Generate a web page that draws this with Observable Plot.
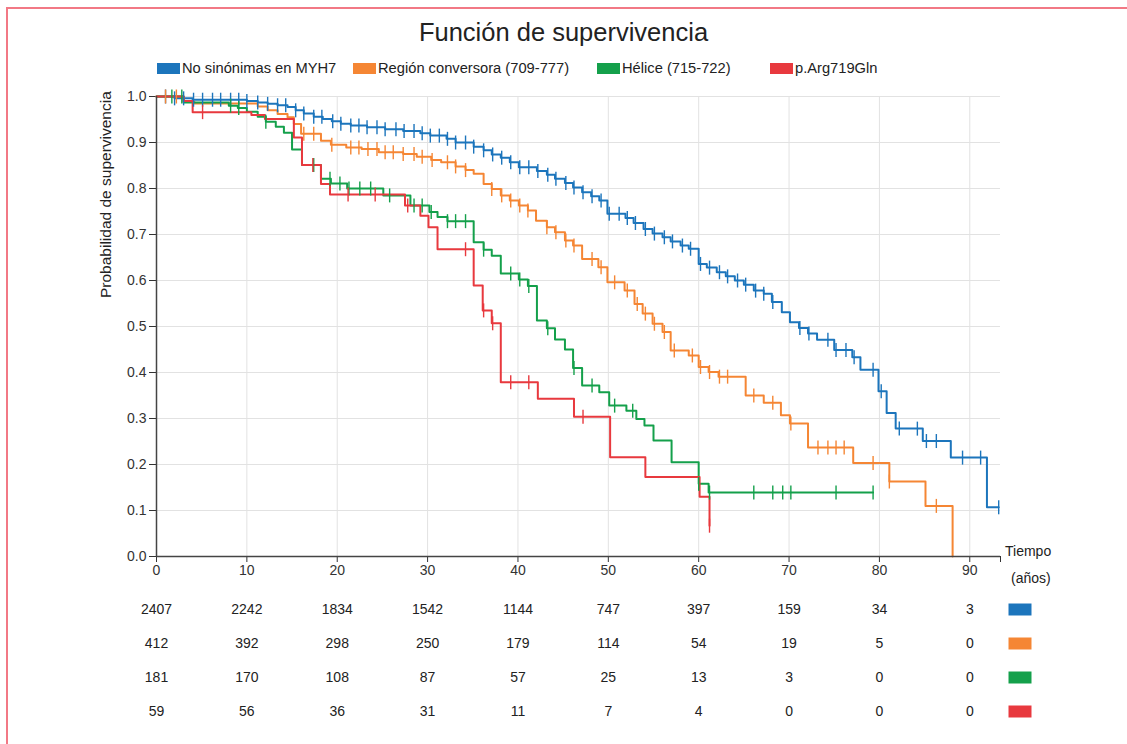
<!DOCTYPE html>
<html><head><meta charset="utf-8">
<script src="https://cdn.jsdelivr.net/npm/d3@7"></script>
<script src="https://cdn.jsdelivr.net/npm/@observablehq/plot@0.6"></script>
<style>
body{margin:0;background:#fff;font-family:"Liberation Sans",Arial,sans-serif;}
#frame{position:relative;width:1127px;height:744px;overflow:hidden;background:#fff;}
#border{position:absolute;left:6px;top:7px;right:-10px;bottom:-10px;border-top:2px solid #f27985;border-left:2px solid #f27985;}
#title{position:absolute;left:0;width:1127px;top:17px;text-align:center;font-size:25.5px;line-height:30px;color:#222;}
#legend{position:absolute;left:0;top:59px;width:1127px;height:18px;font-size:14.7px;line-height:18px;color:#222;}
.item{position:absolute;top:0;display:flex;align-items:center;white-space:nowrap;}
.sw{width:23px;height:11px;margin-right:2px;}
#ylab{position:absolute;left:97px;top:298px;transform:rotate(-90deg);transform-origin:left top;white-space:nowrap;font-size:15.5px;line-height:17px;color:#222;}
.tl{position:absolute;font-size:14px;line-height:16px;color:#222;white-space:nowrap;}
#main{position:absolute;left:0;top:80px;}
#risk{position:absolute;left:0;top:590px;}
</style></head>
<body>
<div id="frame">
  <div id="border"></div>
  <div id="title">Función de supervivencia</div>
  <div id="legend"></div>
  <div id="main"></div>
  <div id="risk"></div>
  <div id="ylab">Probabilidad de supervivencia</div>
  <div class="tl" style="left:1005px;top:543px;">Tiempo</div>
  <div class="tl" style="left:1011px;top:570px;">(años)</div>
</div>
<script>
// ---------- data ----------
const names = ["No sinónimas en MYH7", "Región conversora (709-777)", "Hélice (715-722)", "p.Arg719Gln"];
const colors = ["#1c75bc", "#f58634", "#14a04b", "#e8393e"];
const legendLeft = [157, 353, 597, 770];

// Kaplan-Meier steps: [time (years), survival after step]
const blueSteps = [[0,1],[2,0.996],[4,0.993],[10,0.990],[11.2,0.987],[12.3,0.984],[13.4,0.981],[14.5,0.977],[15.4,0.970],[16.3,0.963],[17.4,0.956],[18.4,0.951],[19.4,0.946],[20.4,0.941],[21.5,0.937],[23.3,0.933],[25.3,0.929],[27.3,0.925],[29.2,0.920],[30.3,0.915],[32.1,0.908],[33.1,0.900],[35.1,0.891],[36.2,0.883],[37.1,0.874],[38.1,0.867],[39.1,0.857],[40.1,0.846],[42.1,0.838],[43.2,0.830],[44.1,0.821],[45.2,0.812],[46.1,0.802],[47.1,0.792],[48.1,0.783],[49.0,0.774],[49.9,0.745],[51.9,0.736],[52.8,0.725],[53.9,0.712],[54.9,0.702],[56.0,0.694],[56.9,0.685],[58.0,0.676],[58.9,0.669],[60.0,0.636],[60.9,0.628],[62.0,0.618],[63.0,0.609],[64.0,0.600],[65.0,0.591],[66.1,0.578],[67.2,0.571],[68.1,0.553],[69.2,0.531],[70.1,0.509],[71.1,0.497],[72.1,0.485],[73.1,0.471],[75.0,0.449],[77.0,0.433],[77.9,0.406],[79.9,0.359],[80.8,0.312],[81.8,0.278],[84.8,0.251],[87.9,0.215],[91.9,0.107],[93.2,0.107]];
const orangeSteps = [[0,1],[3,0.988],[4.2,0.985],[11.2,0.978],[12.3,0.970],[13.4,0.962],[14.5,0.955],[15.2,0.940],[16.0,0.919],[18.2,0.904],[19.3,0.895],[21.0,0.889],[22.7,0.886],[24.6,0.879],[27.3,0.875],[28.8,0.869],[30.4,0.862],[31.5,0.857],[33.1,0.848],[34.2,0.840],[35.1,0.832],[36.2,0.810],[37.1,0.799],[38.1,0.785],[39.1,0.774],[40.1,0.763],[41.1,0.752],[42.0,0.730],[43.2,0.716],[44.1,0.705],[45.2,0.687],[46.1,0.676],[47.1,0.647],[48.9,0.629],[49.9,0.596],[51.8,0.578],[52.9,0.549],[53.8,0.528],[54.9,0.506],[56.0,0.488],[56.9,0.448],[58.9,0.437],[60.0,0.412],[61.1,0.401],[62.2,0.391],[65.2,0.350],[67.2,0.334],[69.1,0.307],[70.1,0.289],[72.1,0.237],[77.1,0.203],[81.1,0.163],[85.1,0.110],[88.1,0]];
const greenSteps = [[0,1],[3,0.987],[8,0.980],[9,0.975],[10,0.967],[11.2,0.956],[12.1,0.945],[13.2,0.934],[14.1,0.921],[15.0,0.885],[16.1,0.851],[18.2,0.821],[19.3,0.811],[21.1,0.800],[25.1,0.785],[28.1,0.763],[30.2,0.749],[31.1,0.738],[32.2,0.729],[35.1,0.683],[36.2,0.667],[37.1,0.654],[38.1,0.615],[40.1,0.602],[41.1,0.588],[42.1,0.513],[43.2,0.496],[44.1,0.472],[45.2,0.450],[46.1,0.410],[47.1,0.372],[49.0,0.357],[50.1,0.328],[52.0,0.317],[53.1,0.299],[54.0,0.285],[55.0,0.252],[57.0,0.205],[60.0,0.158],[61.1,0.139],[79.3,0.139]];
const redSteps = [[0,1],[3,0.990],[4.0,0.966],[10.5,0.960],[12.0,0.951],[15.2,0.911],[16.1,0.851],[18.2,0.810],[19.2,0.787],[27.5,0.763],[29.2,0.741],[30.1,0.716],[31.1,0.668],[35.1,0.589],[36.1,0.535],[37.1,0.507],[38.1,0.379],[42.2,0.343],[46.2,0.304],[50.2,0.216],[54.1,0.173],[60.1,0.130],[61.2,0.067]];

// censored observations (years)
const blueCensor = [1,2,3,4.1,5.1,6.2,7.1,8.2,9.1,10,11.2,12.3,13.4,14.3,15.4,16.3,17.4,18.3,19.5,20.4,21.5,22.4,23.3,24.4,25.3,26.5,27.4,28.5,29.4,30.3,31.3,32.2,33.1,34.2,35.1,36.2,37.2,38.2,39.2,40.2,41.2,42.2,43.3,44.2,45.3,46.2,47.2,48.2,49.2,50.1,51.2,52.1,53,54.1,55.1,56.2,57.1,58.2,59.1,60.2,61.2,62.3,63.2,64.3,65.2,66.3,67.2,68.2,71.2,72.2,74.3,75.2,76.3,77.2,79.3,80.2,82.2,84.2,85.2,86.3,89.2,91.2,93.2];
const orangeCensor = [1,2.2,16.3,17.4,19.4,21.5,22.4,23.4,24.4,25.3,26.2,27.3,28.5,29.4,30.5,32.2,33.1,34.2,37.1,38.2,39.2,40.2,41.1,43.2,44.2,45.3,46.2,48.2,49.2,50.7,52.1,53.2,54.1,55.1,56.2,57.3,59.3,60.2,61.2,62.3,63.2,66.1,68.2,70.2,73.2,74.3,75.2,76.1,79.3,81.1,86.3];
const greenCensor = [1.7,2.8,8.2,9.1,12.1,17.4,19.2,20.3,21.3,22.5,23.7,25.8,28.5,29.4,30.4,32.2,33.1,34.2,36.2,39.2,40.2,41.2,43.3,46.2,48.2,50.7,52.7,60,61.2,66.1,68.2,69.3,70.2,75.2,79.3];
const redCensor = [5.1,17.3,21.2,24.2,27.8,34.2,36.2,37.2,39.2,41.2,47.2,61.2];

// numbers at risk
const riskTimes = [0,10,20,30,40,50,60,70,80,90];
const riskBlue = [2407,2242,1834,1542,1144,747,397,159,34,3];
const riskOrange = [412,392,298,250,179,114,54,19,5,0];
const riskGreen = [181,170,108,87,57,25,13,3,0,0];
const riskRed = [59,56,36,31,11,7,4,0,0,0];

// axes
const xMax = 93.4;
const xTickValues = [0,10,20,30,40,50,60,70,80,90];
const yTickValues = [0,0.1,0.2,0.3,0.4,0.5,0.6,0.7,0.8,0.9,1.0];

// ---------- build ----------
const stepsBySeries = [blueSteps, orangeSteps, greenSteps, redSteps];
const censorBySeries = [blueCensor, orangeCensor, greenCensor, redCensor];
const riskBySeries = [riskBlue, riskOrange, riskGreen, riskRed];

function survivalAt(steps, t) {
  let s = steps[0][1];
  for (const [tt, ss] of steps) if (tt <= t) s = ss;
  return s;
}
const lineData = names.flatMap((n, i) => stepsBySeries[i].map(([t, s]) => ({series: n, t, s})));
const censorData = names.flatMap((n, i) => censorBySeries[i].map(t => ({series: n, t, s: survivalAt(stepsBySeries[i], t)})));
const riskData = names.flatMap((n, i) => riskTimes.map((t, j) => ({series: n, t, count: String(riskBySeries[i][j])})));

// legend
const legend = document.getElementById("legend");
names.forEach((n, i) => {
  const it = document.createElement("div"); it.className = "item"; it.style.left = legendLeft[i] + "px";
  const sw = document.createElement("div"); sw.className = "sw"; sw.style.background = colors[i];
  const tx = document.createElement("span"); tx.textContent = n;
  it.appendChild(sw); it.appendChild(tx); legend.appendChild(it);
});

const vtick = {draw(ctx) { ctx.moveTo(0, -7); ctx.lineTo(0, 7); }};
const rectSym = {draw(ctx) { ctx.rect(-11.5, -6, 23, 12); }};
const fontFamily = '"Liberation Sans", Arial, sans-serif';

const main = Plot.plot({
  width: 1127, height: 506,
  marginLeft: 156, marginRight: 127, marginTop: 16, marginBottom: 30,
  style: {fontSize: "14px", fontFamily, color: "#333", background: "transparent"},
  x: {domain: [0, xMax], ticks: [...xTickValues, xMax], tickFormat: d => (d === xMax ? "" : String(d)), tickSize: 6, tickPadding: 3, label: null},
  y: {domain: [0, 1], ticks: yTickValues, tickFormat: d => d.toFixed(1), tickSize: 7, tickPadding: 3, label: null},
  color: {domain: names, range: colors},
  marks: [
    Plot.ruleX(xTickValues.slice(1), {stroke: "#e2e2e2", strokeWidth: 1}),
    Plot.ruleY(yTickValues.slice(1), {stroke: "#e2e2e2", strokeWidth: 1}),
    Plot.line(lineData, {x: "t", y: "s", z: "series", stroke: "series", curve: "step-after", strokeWidth: 2}),
    Plot.dot(censorData, {x: "t", y: "s", stroke: "series", fill: "none", symbol: vtick, strokeWidth: 1.4}),
    Plot.ruleX([0], {stroke: "#444", strokeWidth: 1.5}),
    Plot.ruleY([0], {stroke: "#444", strokeWidth: 1.5})
  ]
});
document.getElementById("main").appendChild(main);

const risk = Plot.plot({
  width: 1127, height: 139,
  marginLeft: 156, marginRight: 127, marginTop: 0, marginBottom: 0,
  style: {fontSize: "14px", fontFamily, color: "#222", background: "transparent"},
  x: {domain: [0, xMax], axis: null},
  y: {type: "point", domain: names, padding: 0.5, axis: null},
  color: {domain: names, range: colors},
  marks: [
    Plot.text(riskData, {x: "t", y: "series", text: "count", fill: "#222", fontSize: 14}),
    Plot.dot(names, {y: d => d, frameAnchor: "right", dx: 19.5, symbol: rectSym, fill: d => d, stroke: "none"})
  ]
});
document.getElementById("risk").appendChild(risk);
</script>
</body></html>
